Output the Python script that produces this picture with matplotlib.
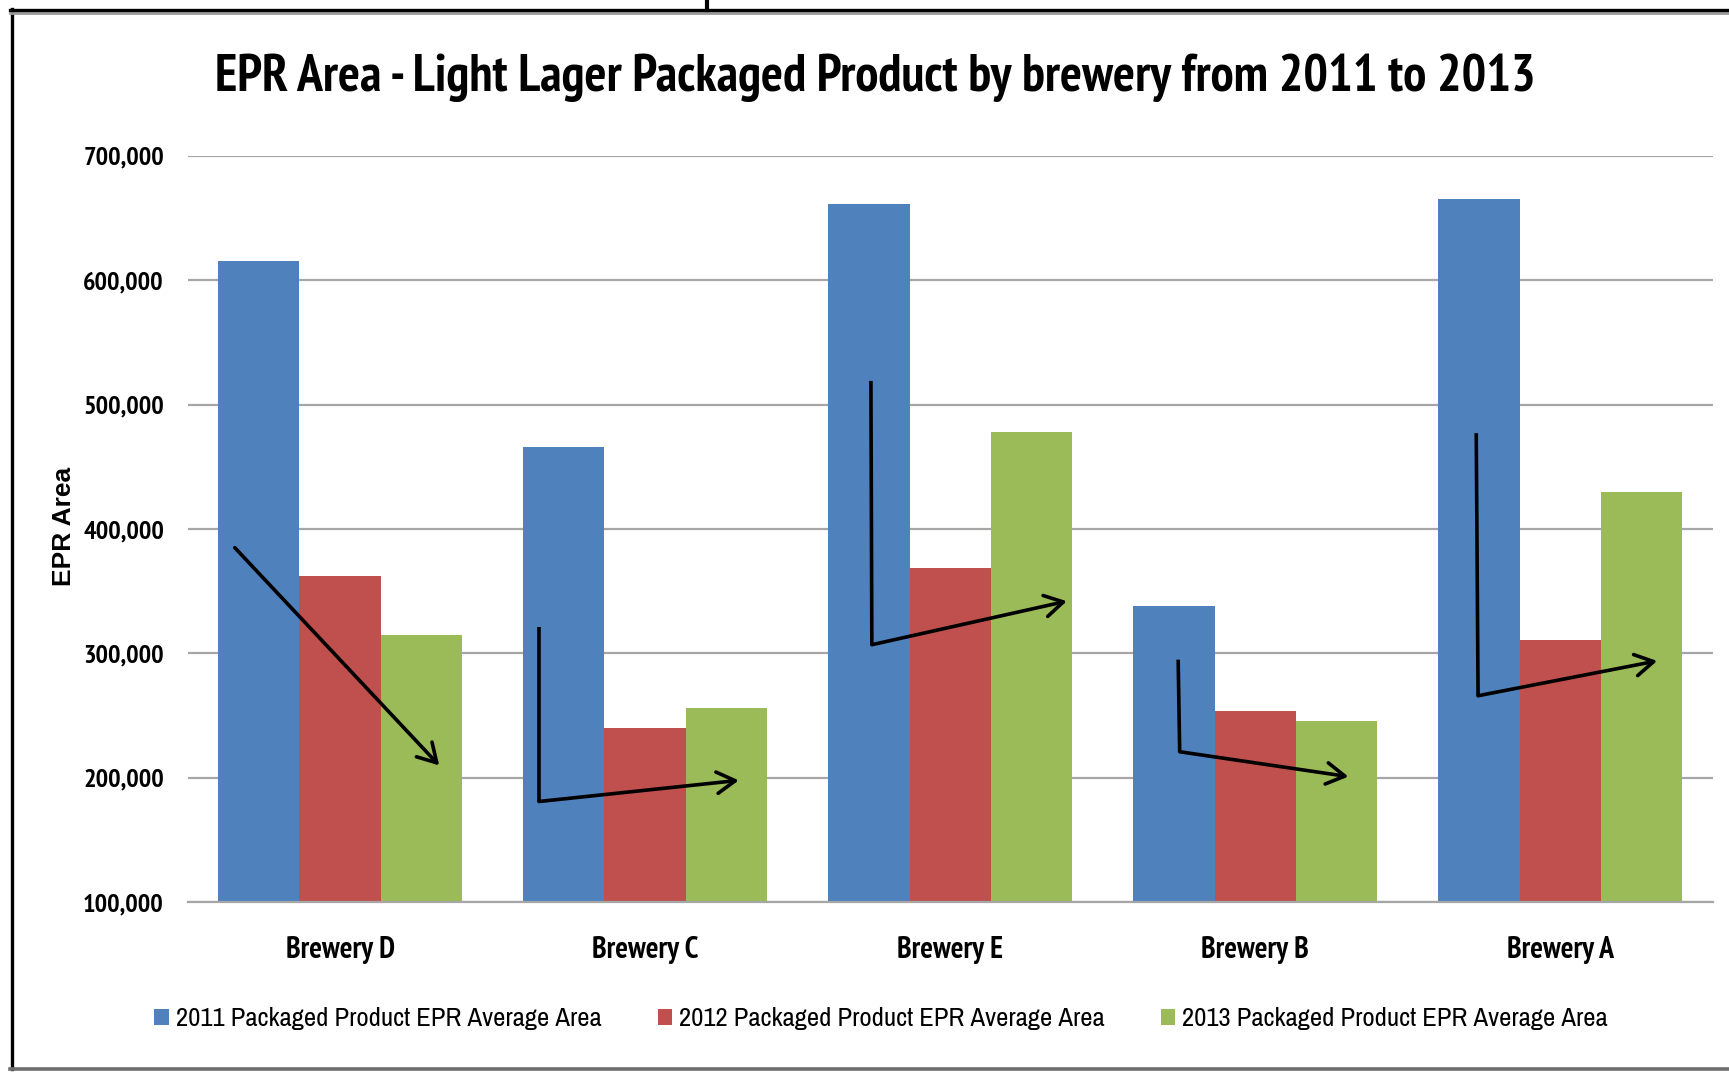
import matplotlib
matplotlib.use("Agg")
import matplotlib.pyplot as plt
from matplotlib import font_manager
from matplotlib.font_manager import FontProperties
from matplotlib.lines import Line2D
from matplotlib.ticker import StrMethodFormatter
import numpy as np

breweries = ["Brewery D", "Brewery C", "Brewery E", "Brewery B", "Brewery A"]
epr_2011 = [615000, 466000, 661000, 338000, 665000]
epr_2012 = [362000, 240000, 369000, 254000, 311000]
epr_2013 = [315000, 256000, 478000, 246000, 430000]
series_labels = [
    "2011 Packaged Product EPR Average Area",
    "2012 Packaged Product EPR Average Area",
    "2013 Packaged Product EPR Average Area",
]
colors = ["#4F81BD", "#C0504D", "#9BBB59"]
yticks = [100000, 200000, 300000, 400000, 500000, 600000, 700000]
title = "EPR Area - Light Lager Packaged Product by brewery from 2011 to 2013"

# hand-drawn trend arrows (x in category units, y in EPR area)
# each: optional vertical stroke top, corner, arrow tip
trend_strokes = [
    (None, (-0.345, 385000), (0.325, 210000)),
    ((0.652, 321000), (0.652, 181000), (1.307, 198000)),
    ((1.740, 519000), (1.743, 307000), (2.382, 342000)),
    ((2.747, 295000), (2.752, 221000), (3.305, 201000)),
    ((3.724, 477000), (3.730, 266000), (4.317, 294000)),
]

STRETCH = {"ultra-condensed": 100, "extra-condensed": 200, "condensed": 300,
           "semi-condensed": 400, "normal": 500}


def stretch_of(f):
    s = f.stretch
    if isinstance(s, str):
        return STRETCH.get(s, 500)
    return s


def weight_of(f):
    w = f.weight
    if isinstance(w, str):
        return {"bold": 700, "normal": 400, "regular": 400}.get(w, 400)
    return w


def narrow_font(bold):
    # look for a narrow / condensed face, fall back to a plain sans
    best = None
    for f in font_manager.fontManager.ttflist:
        name = f.name.lower()
        st = stretch_of(f)
        narrowish = ("narrow" in name or "condensed" in name or st < 500)
        if not narrowish or f.style != "normal":
            continue
        w = weight_of(f)
        if bold and w < 600:
            continue
        if not bold and (w < 350 or w > 500):
            continue
        score = abs(st - 300) + (0 if "narrow" in name else 5) + abs(w - (700 if bold else 400)) / 10
        if best is None or score < best[0]:
            best = (score, f.fname)
    if best:
        return FontProperties(fname=best[1])
    return FontProperties(family=["Roboto", "DejaVu Sans"], weight="bold" if bold else "normal")


fp_bold = narrow_font(True)
fp_reg = narrow_font(False)

W, H = 1729, 1072
fig = plt.figure(figsize=(W / 100, H / 100), dpi=100)
ax = fig.add_axes([187.5 / W, 1 - 902.3 / H, (1713 - 187.5) / W, (902.3 - 155.7) / H])
renderer = fig.canvas.get_renderer()


def fit_size(text, fp, target_px):
    t = fig.text(0, 0, text, fontproperties=fp, fontsize=20)
    w = t.get_window_extent(renderer).width
    t.remove()
    return 20 * target_px / w


x = np.arange(len(breweries))
bw = 0.8 / 3
for i, (vals, lab, c) in enumerate(zip([epr_2011, epr_2012, epr_2013], series_labels, colors)):
    ax.bar(x + (i - 1) * bw, np.array(vals) - 100000, bw, bottom=100000,
           color=c, label=lab, zorder=2)

ax.set_xlim(-0.5, len(breweries) - 0.5)
ax.set_ylim(100000, 700000)
ax.set_yticks(yticks)
ax.yaxis.set_major_formatter(StrMethodFormatter("{x:,.0f}"))
ax.set_xticks(x)
ax.set_xticklabels(breweries)
ax.grid(axis="y", color="#A6A6A6", lw=1.6, zorder=1)
ax.set_axisbelow(True)
for s in ["left", "right", "top"]:
    ax.spines[s].set_visible(False)
ax.spines["bottom"].set_color("#A6A6A6")
ax.spines["bottom"].set_linewidth(1.6)
ax.tick_params(axis="both", length=0)
ax.tick_params(axis="y", pad=17)
ax.tick_params(axis="x", pad=24)

ytick_size = min(fit_size("700,000", fp_bold, 82), 20)
xtick_size = min(fit_size("Brewery D", fp_bold, 109), 22)
for t in ax.get_yticklabels():
    t.set_fontproperties(fp_bold)
    t.set_fontsize(ytick_size)
for t in ax.get_xticklabels():
    t.set_fontproperties(fp_bold)
    t.set_fontsize(xtick_size)

ax.set_ylabel("EPR Area", fontfamily=["Liberation Sans", "DejaVu Sans"],
              fontweight="bold", fontsize=19)
ax.yaxis.set_label_coords(-0.073, 0.503)

for top, corner, tip in trend_strokes:
    if top is not None:
        ax.plot([top[0], corner[0]], [top[1], corner[1]], color="black",
                lw=2.6, solid_capstyle="butt", zorder=5)
    ax.annotate("", xy=tip, xytext=corner,
                arrowprops=dict(arrowstyle="->,head_length=0.6,head_width=0.35",
                                mutation_scale=22, color="black", lw=2.6,
                                shrinkA=0, shrinkB=0),
                zorder=5)

title_size = min(fit_size(title, fp_bold, 1321), 42)
fig.text(875.5 / W, 1 - 78 / H, title, ha="center", va="center",
         fontproperties=fp_bold, fontsize=title_size)

leg_size = min(fit_size(series_labels[0], fp_reg, 425), 21)
leg_prop = fp_reg.copy()
leg_prop.set_size(leg_size)
fig.legend(loc="center", bbox_to_anchor=(881 / W, 1 - 1019 / H), ncol=3,
           frameon=False, prop=leg_prop,
           handlelength=0.55, handleheight=0.55, handletextpad=0.25, columnspacing=2.1)


# outer frame
def px_line(xs, ys, **kw):
    fig.add_artist(Line2D([v / W for v in xs], [1 - v / H for v in ys],
                          transform=fig.transFigure, **kw))


px_line([11.5, 11.5], [9, 1069], color="black", lw=2.4)
px_line([10, W], [12.5, 12.5], color="#9A9A9A", lw=2.0)
px_line([10, W], [10, 10], color="black", lw=2.4)
px_line([10, W], [1068.5, 1068.5], color="#6E6E6E", lw=2.6)
px_line([707, 707], [0, 10], color="black", lw=3.0)

fig.savefig("out.png", dpi=100, facecolor="white")
